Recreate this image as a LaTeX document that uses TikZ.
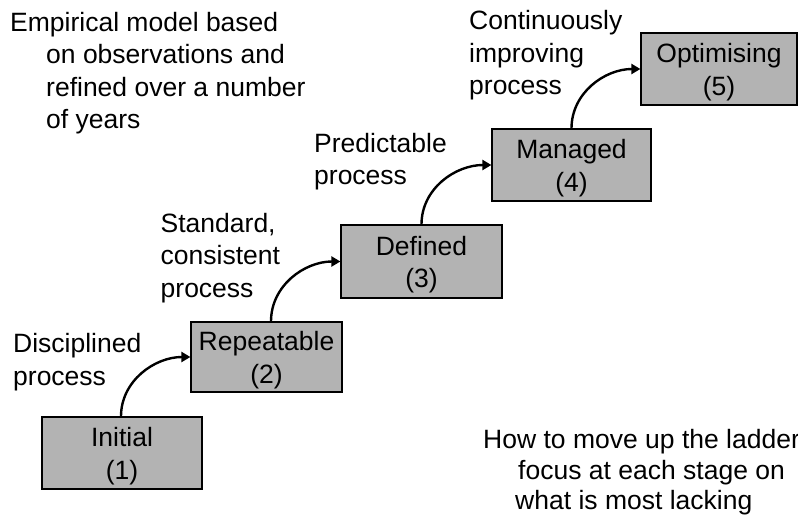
\documentclass[tikz,border=0pt]{standalone}
\usepackage{fontspec}
\setmainfont{Liberation Sans}
\usetikzlibrary{arrows.meta}
\definecolor{boxgray}{RGB}{179,179,179}
\newcommand{\boxstrut}{\rule{0pt}{25.5pt}}
\begin{document}
\begin{tikzpicture}[x=1pt,y=-1pt,
  txt/.style={font=\fontsize{26.5}{32.5}\selectfont},
  stagebox/.style={txt,draw=black,line width=1.2pt,fill=boxgray,align=center,inner sep=0pt},
  lbl/.style={txt,anchor=base west,inner sep=0pt},
  climb/.style={line width=2.4pt,-{Triangle[length=9pt,width=10pt]},out=90,in=180}]
\useasboundingbox (0,0) rectangle (798,516);

% stage boxes
\node[stagebox,minimum width=160pt,minimum height=72pt] (s1) at (122,453) {\boxstrut Initial\\(1)};
\node[stagebox,minimum width=151pt,minimum height=70pt] (s2) at (266.5,357) {\boxstrut Repeatable\\(2)};
\node[stagebox,minimum width=161pt,minimum height=73pt] (s3) at (421.5,261.5) {\boxstrut Defined\\(3)};
\node[stagebox,minimum width=159pt,minimum height=72pt] (s4) at (571.5,165) {\boxstrut Managed\\(4)};
\node[stagebox,minimum width=156pt,minimum height=72pt] (s5) at (719,69) {\boxstrut Optimising\\(5)};

% arrows
\draw[climb] ([xshift=-1pt]s1.north) to (s2.west);
\draw[climb] ([xshift=4.5pt]s2.north) to (s3.west);
\draw[climb] (s3.north) to (s4.west);
\draw[climb] (s4.north) to (s5.west);

% top-left note
\node[lbl] (n1) at (10,31.5) {Empirical model based};
\node[lbl] (n2) at (46,64) {on observations and};
\node[lbl] (n3) at (46,96.5) {refined over a number};
\node[lbl] (n4) at (46,129) {of years};

% step labels
\node[lbl] (d1) at (13,352.5) {Disciplined};
\node[lbl] (d2) at (13,385) {process};

\node[lbl] (c1) at (160.5,232) {Standard,};
\node[lbl] (c2) at (160.5,264.5) {consistent};
\node[lbl] (c3) at (160.5,297) {process};

\node[lbl] (p1) at (314,152.5) {Predictable};
\node[lbl] (p2) at (314,185) {process};

\node[lbl] (i1) at (469,30) {Continuously};
\node[lbl] (i2) at (469,62.5) {improving};
\node[lbl] (i3) at (469,95) {process};

% bottom-right note
\node[lbl] (h1) at (483,448.5) {How to move up the ladder};
\node[lbl] (h2) at (518,479) {focus at each stage on};
\node[lbl] (h3) at (515,509.5) {what is most lacking};
\end{tikzpicture}
\end{document}
